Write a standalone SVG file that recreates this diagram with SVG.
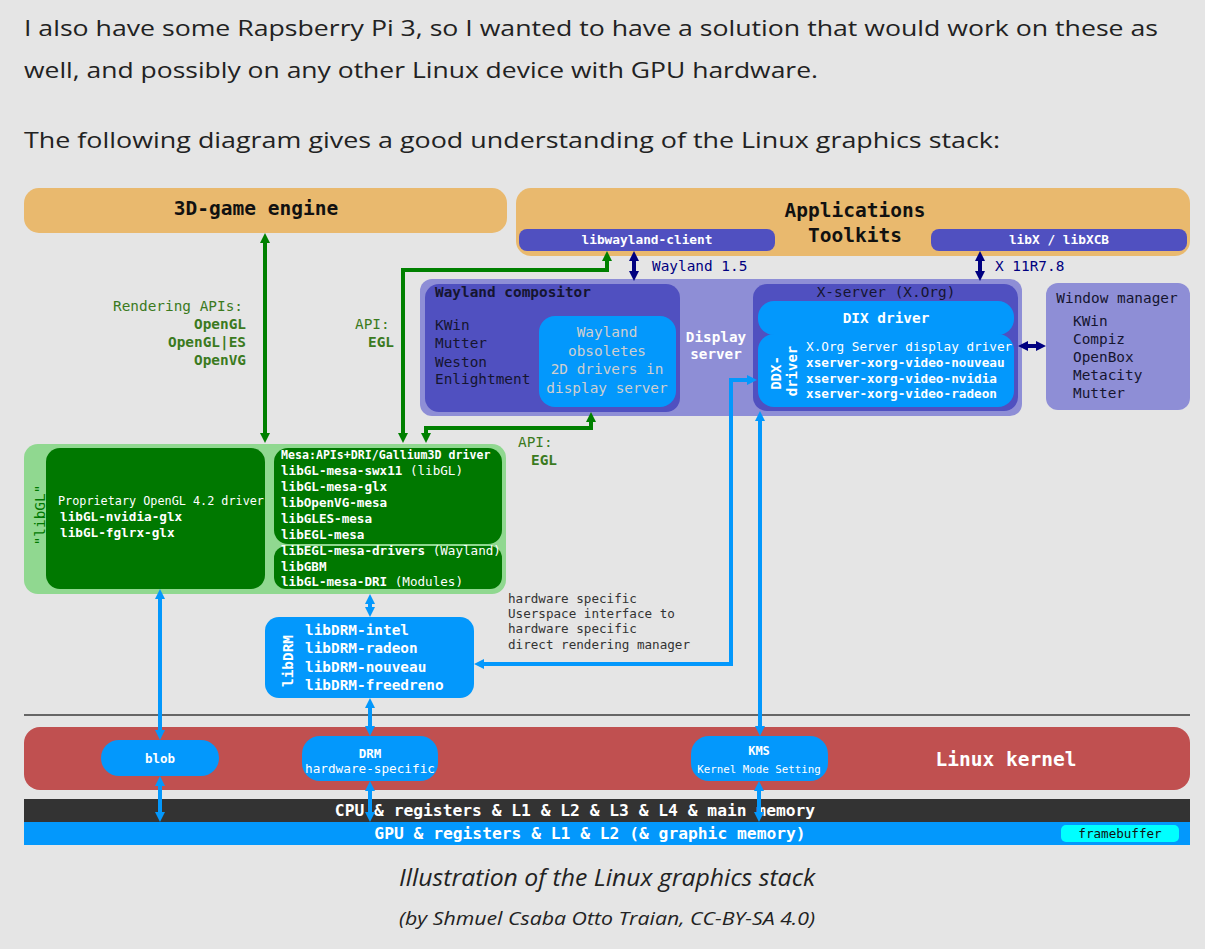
<svg xmlns="http://www.w3.org/2000/svg" width="1205" height="949" viewBox="0 0 1205 949">
<defs>
<marker id="ag" viewBox="0 0 10 10" refX="2" refY="5" markerWidth="2.5" markerHeight="2.5" orient="auto-start-reverse"><path d="M0,0 L10,5 L0,10 z" fill="#008000"/></marker>
<marker id="ab" viewBox="0 0 10 10" refX="2" refY="5" markerWidth="2.5" markerHeight="2.5" orient="auto-start-reverse"><path d="M0,0 L10,5 L0,10 z" fill="#0398fc"/></marker>
<marker id="an" viewBox="0 0 10 10" refX="2" refY="5" markerWidth="2.5" markerHeight="2.5" orient="auto-start-reverse"><path d="M0,0 L10,5 L0,10 z" fill="#000080"/></marker>
</defs>
<style>
.page{font-family:"Open Sans","Noto Sans","Liberation Sans",sans-serif;fill:#222}
.m{font-family:"DejaVu Sans Mono","Liberation Mono",monospace}
.b{font-weight:bold}
.w{fill:#fff}
.dk{fill:#151530}
.gl{fill:#3b7a1e}
.orange{fill:#e9b96e}
.pd{fill:#5050c0}
.pl{fill:#8e8ed6}
.bl{fill:#0398fc}
.gd{fill:#007800}
.gll{fill:#90d890}
.cg{stroke:#008000;stroke-width:4;fill:none}
.cb{stroke:#0398fc;stroke-width:4;fill:none}
.cn{stroke:#000080;stroke-width:4;fill:none}
</style>
<rect width="1205" height="949" fill="#e5e5e5"/>

<g id="intro" class="page" font-size="22">
<text x="24" y="36" textLength="1134" lengthAdjust="spacingAndGlyphs">I also have some Rapsberry Pi 3, so I wanted to have a solution that would work on these as</text>
<text x="24" y="78" textLength="794" lengthAdjust="spacingAndGlyphs">well, and possibly on any other Linux device with GPU hardware.</text>
<text x="24" y="148" textLength="976" lengthAdjust="spacingAndGlyphs">The following diagram gives a good understanding of the Linux graphics stack:</text>
</g>

<g id="game-engine">
<rect class="orange" x="24" y="188" width="483" height="45" rx="15"/>
<text class="m b" x="256" y="215" font-size="19.5" text-anchor="middle" fill="#111">3D-game engine</text>
</g>

<g id="applications">
<rect class="orange" x="516" y="188" width="674" height="68" rx="15"/>
<text class="m b" x="855" y="217" font-size="19.5" text-anchor="middle" fill="#111">Applications</text>
<text class="m b" x="855" y="242" font-size="19.5" text-anchor="middle" fill="#111">Toolkits</text>
</g>
<g id="libwayland-client">
<rect class="pd" x="519" y="229" width="256" height="22" rx="8"/>
<text class="m b w" x="647" y="244" font-size="12.8" text-anchor="middle">libwayland-client</text>
</g>
<g id="libx">
<rect class="pd" x="931" y="229" width="256" height="22" rx="8"/>
<text class="m b w" x="1059" y="244" font-size="12.8" text-anchor="middle">libX / libXCB</text>
</g>

<g id="display-server">
<rect class="pl" x="420" y="279" width="602" height="137" rx="12"/>
<text class="m b w" x="716" y="342" font-size="14.3" text-anchor="middle">Display</text>
<text class="m b w" x="716" y="359" font-size="14.3" text-anchor="middle">server</text>
</g>

<g id="wayland-compositor">
<rect class="pd" x="425" y="284" width="255" height="128" rx="14"/>
<text class="m dk" x="435" y="297" font-size="14.4" font-weight="bold">Wayland compositor</text>
<g class="m dk" font-size="14.4">
<text x="435" y="330">KWin</text>
<text x="435" y="348">Mutter</text>
<text x="435" y="367">Weston</text>
<text x="435" y="384">Enlightment</text>
</g>
</g>
<g id="wayland-obsoletes">
<rect class="bl" x="539" y="316" width="137" height="91" rx="16"/>
<g class="m" font-size="14.4" text-anchor="middle" fill="#cfcfcf">
<text x="607" y="337">Wayland</text>
<text x="607" y="356">obsoletes</text>
<text x="607" y="374">2D drivers in</text>
<text x="607" y="393">display server</text>
</g>
</g>

<g id="x-server">
<rect class="pd" x="753" y="284" width="265" height="127" rx="14"/>
<text class="m dk" x="886" y="297" font-size="14.4" text-anchor="middle">X-server (X.Org)</text>
</g>
<g id="dix-driver">
<rect class="bl" x="758" y="301" width="256" height="34" rx="16"/>
<text class="m b w" x="886" y="323" font-size="14.4" text-anchor="middle">DIX driver</text>
</g>
<g id="ddx-driver">
<rect class="bl" x="758" y="334" width="256" height="73" rx="16"/>
<text class="m b w" font-size="14" text-anchor="middle" transform="translate(781,373) rotate(-90)">DDX-</text>
<text class="m b w" font-size="14" text-anchor="middle" transform="translate(797,371) rotate(-90)">driver</text>
<text class="m w" x="806" y="351" font-size="12.7">X.Org Server display driver</text>
<text class="m b w" x="806" y="367" font-size="12.7">xserver-xorg-video-nouveau</text>
<text class="m b w" x="806" y="383" font-size="12.7">xserver-xorg-video-nvidia</text>
<text class="m b w" x="806" y="398" font-size="12.7">xserver-xorg-video-radeon</text>
</g>

<g id="window-manager">
<rect class="pl" x="1046" y="283" width="144" height="127" rx="12"/>
<g class="m dk" font-size="14.4">
<text x="1117" y="303" text-anchor="middle">Window manager</text>
<text x="1073" y="326">KWin</text>
<text x="1073" y="344">Compiz</text>
<text x="1073" y="362">OpenBox</text>
<text x="1073" y="380">Metacity</text>
<text x="1073" y="398">Mutter</text>
</g>
</g>

<g id="libgl">
<rect class="gll" x="24" y="444" width="482" height="150" rx="14"/>
<text class="m" font-size="14.4" text-anchor="middle" fill="#007800" transform="translate(45,515) rotate(-90)">"libGL"</text>
</g>
<g id="proprietary-driver">
<rect class="gd" x="46" y="448" width="219" height="141" rx="14"/>
<text class="m w" x="58" y="505" font-size="11.8">Proprietary OpenGL 4.2 driver</text>
<text class="m b w" x="60" y="521" font-size="12.7">libGL-nvidia-glx</text>
<text class="m b w" x="60" y="537" font-size="12.7">libGL-fglrx-glx</text>
</g>
<g id="mesa">
<rect class="gd" x="274" y="448" width="228" height="96" rx="14"/>
<rect class="gd" x="274" y="546" width="228" height="43" rx="12"/>
<text class="m b w" x="281" y="459" font-size="11.6">Mesa:APIs+DRI/Gallium3D driver</text>
<g class="m b w" font-size="12.6">
<text x="281" y="475">libGL-mesa-swx11 <tspan font-weight="normal">(libGL)</tspan></text>
<text x="281" y="491">libGL-mesa-glx</text>
<text x="281" y="507">libOpenVG-mesa</text>
<text x="281" y="523">libGLES-mesa</text>
<text x="281" y="539">libEGL-mesa</text>
<text x="281" y="555">libEGL-mesa-drivers <tspan font-weight="normal">(Wayland)</tspan></text>
<text x="281" y="571">libGBM</text>
<text x="281" y="586">libGL-mesa-DRI <tspan font-weight="normal">(Modules)</tspan></text>
</g>
</g>

<g id="libdrm">
<rect class="bl" x="265" y="617" width="209" height="81" rx="14"/>
<text class="m b w" font-size="14.4" text-anchor="middle" transform="translate(293,661) rotate(-90)">libDRM</text>
<g class="m b w" font-size="14.4">
<text x="305" y="635">libDRM-intel</text>
<text x="305" y="653">libDRM-radeon</text>
<text x="305" y="672">libDRM-nouveau</text>
<text x="305" y="690">libDRM-freedreno</text>
</g>
</g>

<g id="labels">
<g class="m gl" font-size="14.4" text-anchor="end">
<text x="243" y="311">Rendering APIs:</text>
<text x="246" y="329" font-weight="bold">OpenGL</text>
<text x="246" y="347" font-weight="bold">OpenGL|ES</text>
<text x="246" y="365" font-weight="bold">OpenVG</text>
</g>
<g class="m gl" font-size="14.4">
<text x="355" y="329">API:</text>
<text x="368" y="347" font-weight="bold">EGL</text>
<text x="518" y="447">API:</text>
<text x="531" y="465" font-weight="bold">EGL</text>
</g>
<g class="m" font-size="12.6" fill="#333">
<text x="508" y="603">hardware specific</text>
<text x="508" y="618">Userspace interface to</text>
<text x="508" y="633">hardware specific</text>
<text x="508" y="649">direct rendering manager</text>
</g>
<g class="m" font-size="14.4" fill="#000080">
<text x="652" y="271">Wayland 1.5</text>
<text x="995" y="271">X 11R7.8</text>
</g>
</g>

<line id="separator" x1="24" y1="715" x2="1190" y2="715" stroke="#666" stroke-width="2"/>

<g id="linux-kernel">
<rect x="24" y="727" width="1166" height="63" rx="16" fill="#c05050"/>
<text class="m b w" x="1006" y="766" font-size="19.5" text-anchor="middle">Linux kernel</text>
</g>
<g id="blob">
<rect class="bl" x="101" y="740" width="118" height="36" rx="18"/>
<text class="m b w" x="160" y="763" font-size="12.5" text-anchor="middle">blob</text>
</g>
<g id="drm">
<rect class="bl" x="302" y="736" width="136" height="45" rx="18"/>
<text class="m b w" x="370" y="758" font-size="12.5" text-anchor="middle">DRM</text>
<text class="m w" x="370" y="773" font-size="12.7" text-anchor="middle">hardware-specific</text>
</g>
<g id="kms">
<rect class="bl" x="691" y="736" width="137" height="45" rx="18"/>
<text class="m b w" x="759" y="755" font-size="12" text-anchor="middle">KMS</text>
<text class="m w" x="759" y="773" font-size="10.8" text-anchor="middle">Kernel Mode Setting</text>
</g>
<g id="cpu">
<rect x="24" y="799" width="1166" height="23" fill="#333"/>
<text class="m b w" x="575" y="816" font-size="16.3" text-anchor="middle">CPU &amp; registers &amp; L1 &amp; L2 &amp; L3 &amp; L4 &amp; main memory</text>
</g>
<g id="gpu">
<rect x="24" y="822" width="1166" height="23" fill="#0398fc"/>
<text class="m b w" x="590" y="839" font-size="16.3" text-anchor="middle">GPU &amp; registers &amp; L1 &amp; L2 (&amp; graphic memory)</text>
</g>
<g id="framebuffer">
<rect x="1061" y="825" width="118" height="17" rx="5" fill="#00ffff"/>
<text class="m" x="1120" y="838" font-size="12.6" text-anchor="middle" fill="#111">framebuffer</text>
</g>

<g id="connectors">
<path class="cg" d="M265,241 V435" marker-start="url(#ag)" marker-end="url(#ag)"/>
<path class="cg" d="M403,435 V270 H607 V259" marker-start="url(#ag)" marker-end="url(#ag)"/>
<path class="cg" d="M426,435 V428 H591 V420" marker-start="url(#ag)" marker-end="url(#ag)"/>
<path class="cn" d="M634,259 V273" marker-start="url(#an)" marker-end="url(#an)"/>
<path class="cn" d="M980,259 V273" marker-start="url(#an)" marker-end="url(#an)"/>
<path class="cn" d="M1026,346 H1038" marker-start="url(#an)" marker-end="url(#an)"/>
<path class="cb" d="M370,602 V609" marker-start="url(#ab)" marker-end="url(#ab)"/>
<path class="cb" d="M370,706 V728" marker-start="url(#ab)" marker-end="url(#ab)"/>
<path class="cb" d="M160,597 V732" marker-start="url(#ab)" marker-end="url(#ab)"/>
<path class="cb" d="M482,664 H731 V380 H749" marker-start="url(#ab)" marker-end="url(#ab)"/>
<path class="cb" d="M760,419 V728" marker-start="url(#ab)" marker-end="url(#ab)"/>
<path class="cb" d="M160,784 V814" marker-start="url(#ab)" marker-end="url(#ab)"/>
<path class="cb" d="M370,789 V814" marker-start="url(#ab)" marker-end="url(#ab)"/>
<path class="cb" d="M759,789 V814" marker-start="url(#ab)" marker-end="url(#ab)"/>
</g>

<g id="caption" class="page" font-style="italic" fill="#333">
<text x="607" y="886" font-size="23" text-anchor="middle" textLength="416" lengthAdjust="spacingAndGlyphs">Illustration of the Linux graphics stack</text>
<text x="607" y="925" font-size="18" text-anchor="middle" textLength="416" lengthAdjust="spacingAndGlyphs">(by Shmuel Csaba Otto Traian, CC-BY-SA 4.0)</text>
</g>
</svg>
